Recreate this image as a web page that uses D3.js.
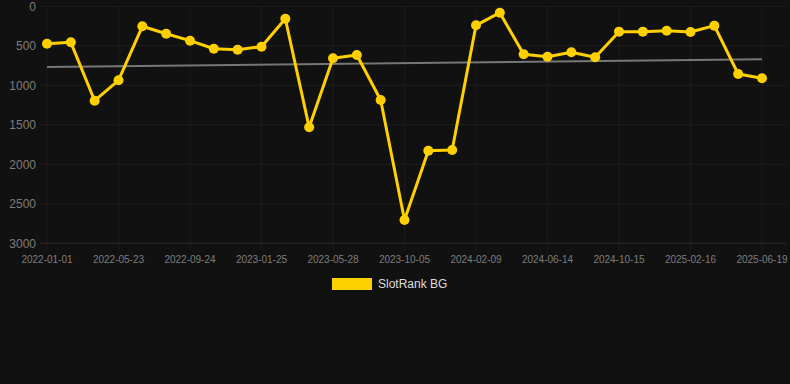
<!DOCTYPE html>
<html><head><meta charset="utf-8">
<script src="https://cdn.jsdelivr.net/npm/d3@7"></script>
<style>html,body{margin:0;padding:0;background:#111111;}svg{display:block;}</style>
</head><body><svg id="c" width="790" height="384"></svg>
<script>
const categories = ["2022-01-01","2022-02-17","2022-04-05","2022-05-23","2022-07-03","2022-08-13","2022-09-24","2022-11-03","2022-12-14","2023-01-25","2023-03-06","2023-04-17","2023-05-28","2023-07-08","2023-08-22","2023-10-05","2023-11-17","2023-12-29","2024-02-09","2024-03-21","2024-05-03","2024-06-14","2024-07-25","2024-09-04","2024-10-15","2024-11-25","2025-01-06","2025-02-16","2025-03-29","2025-05-09","2025-06-19"];
const rankValues = [473,456,1195,937,253,347,435,537,549,511,157,1532,658,616,1186,2705,1828,1819,241,81,608,638,582,646,321,321,309,325,245,857,911];
const yTicks = [0,500,1000,1500,2000,2500,3000];
const seriesName = "SlotRank BG";

const svg = d3.select("#c");
const x = d3.scalePoint().domain(categories).range([47, 762]);
const y = d3.scaleLinear().domain([0, 3000]).range([6.3, 243.3]);

// grid
const g = svg.append("g");
const xTickCats = categories.filter((d, i) => i % 3 === 0);
g.selectAll("line.v").data(xTickCats).enter().append("line")
  .attr("x1", d => x(d)).attr("x2", d => x(d)).attr("y1", 6.3).attr("y2", 251)
  .attr("stroke", "#1b1b1b").attr("stroke-width", 1);
g.selectAll("line.h").data(yTicks).enter().append("line")
  .attr("x1", 40).attr("x2", 786).attr("y1", d => y(d)).attr("y2", d => y(d))
  .attr("stroke", d => d === 3000 ? "#2a2a2a" : "#1f1f1f").attr("stroke-width", 1);

// y labels
svg.append("g").selectAll("text").data(yTicks).enter().append("text")
  .attr("x", 36).attr("y", d => y(d)).attr("dy", "0.35em").attr("text-anchor", "end")
  .attr("font-family", "Arial, 'Liberation Sans', sans-serif").attr("font-size", 12)
  .attr("fill", "#7d7d7d").text(d => d);

// x labels
svg.append("g").selectAll("text").data(xTickCats).enter().append("text")
  .attr("x", d => x(d)).attr("y", 259).attr("dy", "0.35em").attr("text-anchor", "middle")
  .attr("font-family", "Arial, 'Liberation Sans', sans-serif").attr("font-size", 10)
  .attr("fill", "#7d7d7d").text(d => d);

// trend (linear regression)
const n = rankValues.length;
const xs = d3.range(n);
const mx = d3.mean(xs), my = d3.mean(rankValues);
const slope = d3.sum(xs, i => (i - mx) * (rankValues[i] - my)) / d3.sum(xs, i => (i - mx) ** 2);
const icpt = my - slope * mx;
svg.append("line")
  .attr("x1", x(categories[0])).attr("y1", y(icpt))
  .attr("x2", x(categories[n - 1])).attr("y2", y(icpt + slope * (n - 1)))
  .attr("stroke", "#777777").attr("stroke-width", 2);

// series line
const line = d3.line().x((d, i) => x(categories[i])).y(d => y(d));
svg.append("path").datum(rankValues).attr("d", line)
  .attr("fill", "none").attr("stroke", "#FFD000").attr("stroke-width", 3)
  .attr("stroke-linejoin", "round");
svg.append("g").selectAll("circle").data(rankValues).enter().append("circle")
  .attr("cx", (d, i) => x(categories[i])).attr("cy", d => y(d)).attr("r", 5)
  .attr("fill", "#FFD000");

// legend
svg.append("rect").attr("x", 332).attr("y", 278).attr("width", 40).attr("height", 12).attr("fill", "#FFD000");
svg.append("text").attr("x", 378).attr("y", 284).attr("dy", "0.35em")
  .attr("font-family", "Arial, 'Liberation Sans', sans-serif").attr("font-size", 12)
  .attr("fill", "#dddddd").text(seriesName);
</script></body></html>
